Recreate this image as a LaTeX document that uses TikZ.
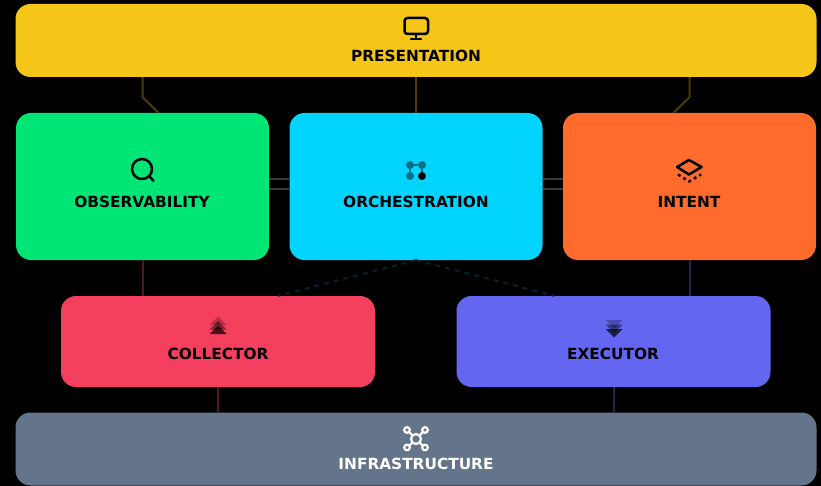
\documentclass[tikz,border=0pt]{standalone}
\usepackage{fontspec}
\setmainfont{DejaVu Sans}
\definecolor{cpres}{HTML}{F5C518}
\definecolor{cobs}{HTML}{00E676}
\definecolor{corch}{HTML}{00D4FF}
\definecolor{cint}{HTML}{FF6B2C}
\definecolor{ccol}{HTML}{F43F5E}
\definecolor{cexe}{HTML}{6366F1}
\definecolor{cinf}{HTML}{64748B}
\definecolor{corchd}{HTML}{006F8C}
\tikzset{
  block/.style={draw=none,rounded corners=15pt,inner sep=0pt,minimum height=#1},
  lab/.style={font=\bfseries\fontsize{15.35}{17}\selectfont,anchor=base,inner sep=0pt,text=black},
  linkp/.style={draw=cpres!30!black,line width=2pt,line join=round},
  linkg/.style={draw=white!22!black,line width=2pt},
  linkd/.style={draw=corch!17!black,line width=2pt,dash pattern=on 5pt off 5pt},
  linkr/.style={draw=ccol!35!black,line width=2pt},
  linki/.style={draw=cexe!35!black,line width=2pt},
  ico/.style={line width=2.5pt,draw=black,line cap=round,line join=round},
}
\begin{document}
\begin{tikzpicture}[x=1pt,y=-1pt]
\useasboundingbox[fill=black] (0,0) rectangle (821,486);
% blocks
\node[block=73pt,fill=cpres,minimum width=801pt] (pres) at (416,40.5) {};
\node[block=147pt,fill=cobs,minimum width=253pt] (obs) at (142.5,186.5) {};
\node[block=147pt,fill=corch,minimum width=253pt] (orch) at (416,186.5) {};
\node[block=147pt,fill=cint,minimum width=253pt] (intent) at (689.5,186.5) {};
\node[block=91pt,fill=ccol,minimum width=314pt] (coll) at (218,341.5) {};
\node[block=91pt,fill=cexe,minimum width=314pt] (exec) at (613.5,341.5) {};
\node[block=73pt,fill=cinf,minimum width=801pt] (infra) at (416,449) {};
% connectors
\draw[linkp] (pres.south -| obs.north) -- ++(0,20) -- ([xshift=16pt]obs.north);
\draw[linkp] (pres.south -| orch.north) -- (orch.north);
\draw[linkp] (pres.south -| intent.north) -- ++(0,20) -- ([xshift=-16pt]intent.north);
\draw[linkg] ([yshift=7.5pt]obs.east) -- ([yshift=7.5pt]orch.west);
\draw[linkg] ([yshift=-2.5pt]obs.east) -- ([yshift=-2.5pt]orch.west);
\draw[linkg] ([yshift=7.5pt]orch.east) -- ([yshift=7.5pt]intent.west);
\draw[linkg] ([yshift=-2.5pt]orch.east) -- ([yshift=-2.5pt]intent.west);
\draw[linkd] (orch.south) -- ([xshift=60pt]coll.north);
\draw[linkd] (orch.south) -- ([xshift=-59pt]exec.north);
\draw[linkr] (obs.south) -- (obs.south |- coll.north);
\draw[linki] (intent.south) -- (intent.south |- exec.north);
\draw[linkr] (coll.south) -- (coll.south |- infra.north);
\draw[linki] (exec.south) -- (exec.south |- infra.north);
% labels
\node[lab] (lpres) at (416,61.5) {PRESENTATION};
\node[lab] (lobs) at (142,207.5) {OBSERVABILITY};
\node[lab] (lorch) at (416,207.5) {ORCHESTRATION};
\node[lab] (lint) at (689,207.5) {INTENT};
\node[lab] (lcoll) at (218,359.7) {COLLECTOR};
\node[lab] (lexec) at (613,359.7) {EXECUTOR};
\node[lab,text=white] (linfra) at (416,469.5) {INFRASTRUCTURE};
% monitor icon
\draw[ico,rounded corners=3pt] (404.5,18) rectangle (428,34);
\draw[ico] (416,34) -- (416,39);
\draw[ico] (411,39) -- (421,39);
% search icon
\draw[ico] (142,169) circle (10);
\draw[ico] (149.5,176.5) -- (153.5,180.8);
% orchestration icon
\draw[line width=2.2pt,draw=corchd] (410,165) -- (422,165) (410,165) -- (410,176) (422,165) -- (422,176);
\fill[corchd] (410,165) circle (4) (422,165) circle (4) (410,176) circle (4);
\fill[black] (422,176) circle (4);
% intent icon
\draw[ico] (689,160) -- (701.5,167) -- (689,174.5) -- (677,167) -- cycle;
\draw[ico,dash pattern=on 3pt off 3.2pt,line cap=butt] (678,174.5) -- (689,181.5) -- (701,174.5);
% collector icon
\fill[black,opacity=.25] (218,316.5) -- (226.5,325) -- (209.5,325) -- cycle;
\fill[black,opacity=.45] (218,321) -- (226.5,329.5) -- (209.5,329.5) -- cycle;
\fill[black,opacity=.7] (218,325.5) -- (226.5,334) -- (209.5,334) -- cycle;
% executor icon
\fill[black,opacity=.25] (605.5,320) -- (622.5,320) -- (614,328.5) -- cycle;
\fill[black,opacity=.45] (605.5,324.5) -- (622.5,324.5) -- (614,333) -- cycle;
\fill[black,opacity=.7] (605.5,329) -- (622.5,329) -- (614,337.5) -- cycle;
% infrastructure icon
\begin{scope}[line width=2.2pt]
\draw[white] (407,430) -- (425,448) (425,430) -- (407,448);
\fill[cinf] (416,439) circle (5);
\draw[white] (416,439) circle (5);
\foreach \p in {(407,430),(425,430),(407,447.5),(425,447.5)} {
  \fill[cinf] \p circle (2.8);
  \draw[white] \p circle (2.8);
}
\end{scope}
\end{tikzpicture}
\end{document}
